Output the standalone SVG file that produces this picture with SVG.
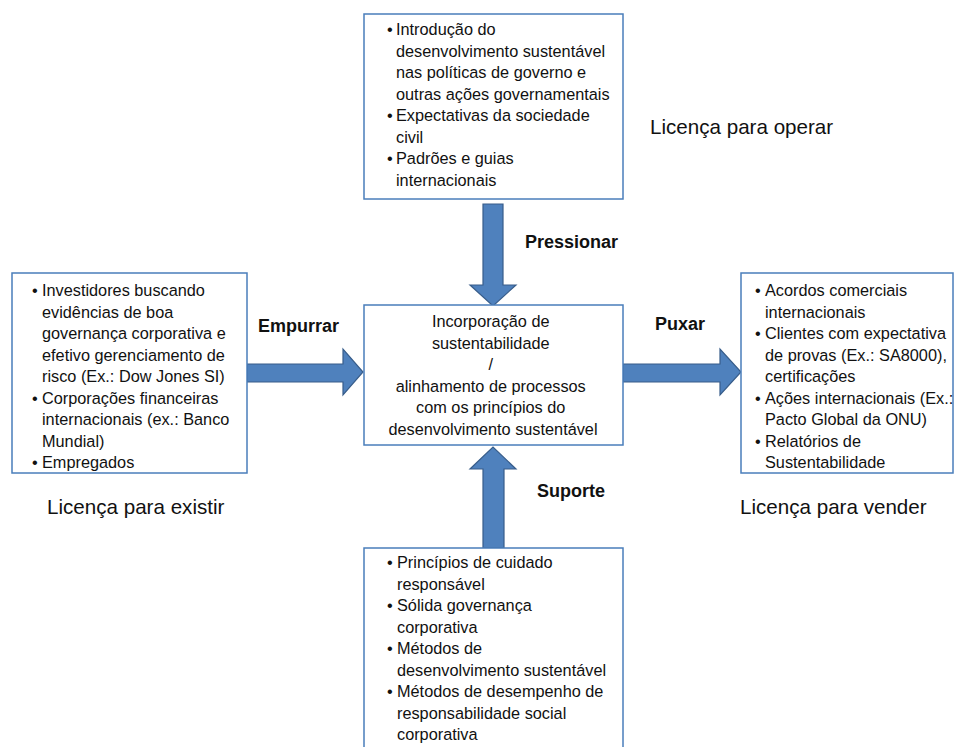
<svg xmlns="http://www.w3.org/2000/svg" width="954" height="747" viewBox="0 0 954 747">
<style>
.box{fill:#fff;stroke:#4A7EBB;stroke-width:1.5}
.arr{fill:#4F81BD;stroke:#385D8A;stroke-width:1.2}
.t{font-family:"Liberation Sans",Arial,sans-serif;font-size:16.3px;fill:#111}
.c{text-anchor:middle}
.lbl{font-family:"Liberation Sans",Arial,sans-serif;font-size:18px;font-weight:bold;fill:#111}
.lic{font-family:"Liberation Sans",Arial,sans-serif;font-size:20.6px;fill:#111}
</style>
<rect width="954" height="747" fill="#fff"/>
<g id="connectors">
<polygon class="arr" points="483,204 503,204 503,285 516,285 493,306 470,285 483,285"/>
<polygon class="arr" points="483,548 504,548 504,469 516,469 493,447 470,469 483,469"/>
<polygon class="arr" points="247,364 343,364 343,349 363,372 343,395 343,382 247,382"/>
<polygon class="arr" points="623,364 720,364 720,349 741,372 720,395 720,382 623,382"/>
</g>
<g id="top">
<rect class="box" x="364" y="14" width="259" height="185"/>
<text class="t"><tspan x="387" y="35">•</tspan><tspan x="396" y="35">Introdução do</tspan>
<tspan x="396" y="56.5">desenvolvimento sustentável</tspan>
<tspan x="396" y="78">nas políticas de governo e</tspan>
<tspan x="396" y="99.5">outras ações governamentais</tspan>
<tspan x="387" y="121">•</tspan><tspan x="396" y="121">Expectativas da sociedade</tspan>
<tspan x="396" y="142.5">civil</tspan>
<tspan x="387" y="164">•</tspan><tspan x="396" y="164">Padrões e guias</tspan>
<tspan x="396" y="185.5">internacionais</tspan></text>
</g>
<g id="left">
<rect class="box" x="12" y="273" width="235" height="200"/>
<text class="t"><tspan x="32" y="296">•</tspan><tspan x="42" y="296">Investidores buscando</tspan>
<tspan x="42" y="317.5">evidências de boa</tspan>
<tspan x="42" y="339">governança corporativa e</tspan>
<tspan x="42" y="360.5">efetivo gerenciamento de</tspan>
<tspan x="42" y="382">risco (Ex.: Dow Jones SI)</tspan>
<tspan x="32" y="403.5">•</tspan><tspan x="42" y="403.5">Corporações financeiras</tspan>
<tspan x="42" y="425">internacionais (ex.: Banco</tspan>
<tspan x="42" y="446.5">Mundial)</tspan>
<tspan x="32" y="468">•</tspan><tspan x="42" y="468">Empregados</tspan></text>
</g>
<g id="right">
<rect class="box" x="741" y="273" width="212" height="200"/>
<text class="t"><tspan x="755" y="296">•</tspan><tspan x="765" y="296">Acordos comerciais</tspan>
<tspan x="765" y="317.5">internacionais</tspan>
<tspan x="755" y="339">•</tspan><tspan x="765" y="339">Clientes com expectativa</tspan>
<tspan x="765" y="360.5">de provas (Ex.: SA8000),</tspan>
<tspan x="765" y="382">certificações</tspan>
<tspan x="755" y="403.5">•</tspan><tspan x="765" y="403.5">Ações internacionais (Ex.:</tspan>
<tspan x="765" y="425">Pacto Global da ONU)</tspan>
<tspan x="755" y="446.5">•</tspan><tspan x="765" y="446.5">Relatórios de</tspan>
<tspan x="765" y="468">Sustentabilidade</tspan></text>
</g>
<g id="center">
<rect class="box" x="364" y="305" width="259" height="140"/>
<text class="t c"><tspan x="493" y="327">Incorporação de</tspan>
<tspan x="493" y="348.5">sustentabilidade</tspan>
<tspan x="493" y="370">/</tspan>
<tspan x="493" y="391.5">alinhamento de processos</tspan>
<tspan x="493" y="413">com os princípios do</tspan>
<tspan x="493" y="434.5">desenvolvimento sustentável</tspan></text>
</g>
<g id="bottom">
<rect class="box" x="364" y="548" width="259" height="210"/>
<text class="t"><tspan x="387" y="568">•</tspan><tspan x="397" y="568">Princípios de cuidado</tspan>
<tspan x="397" y="589.5">responsável</tspan>
<tspan x="387" y="611">•</tspan><tspan x="397" y="611">Sólida governança</tspan>
<tspan x="397" y="632.5">corporativa</tspan>
<tspan x="387" y="654">•</tspan><tspan x="397" y="654">Métodos de</tspan>
<tspan x="397" y="675.5">desenvolvimento sustentável</tspan>
<tspan x="387" y="697">•</tspan><tspan x="397" y="697">Métodos de desempenho de</tspan>
<tspan x="397" y="718.5">responsabilidade social</tspan>
<tspan x="397" y="740">corporativa</tspan></text>
</g>
<g id="labels">
<text class="lbl" x="525" y="248">Pressionar</text>
<text class="lbl" x="258" y="332">Empurrar</text>
<text class="lbl" x="655" y="330">Puxar</text>
<text class="lbl" x="537" y="497">Suporte</text>
<text class="lic" x="650" y="134">Licença para operar</text>
<text class="lic" x="47" y="514">Licença para existir</text>
<text class="lic" x="740" y="514">Licença para vender</text>
</g>
</svg>
